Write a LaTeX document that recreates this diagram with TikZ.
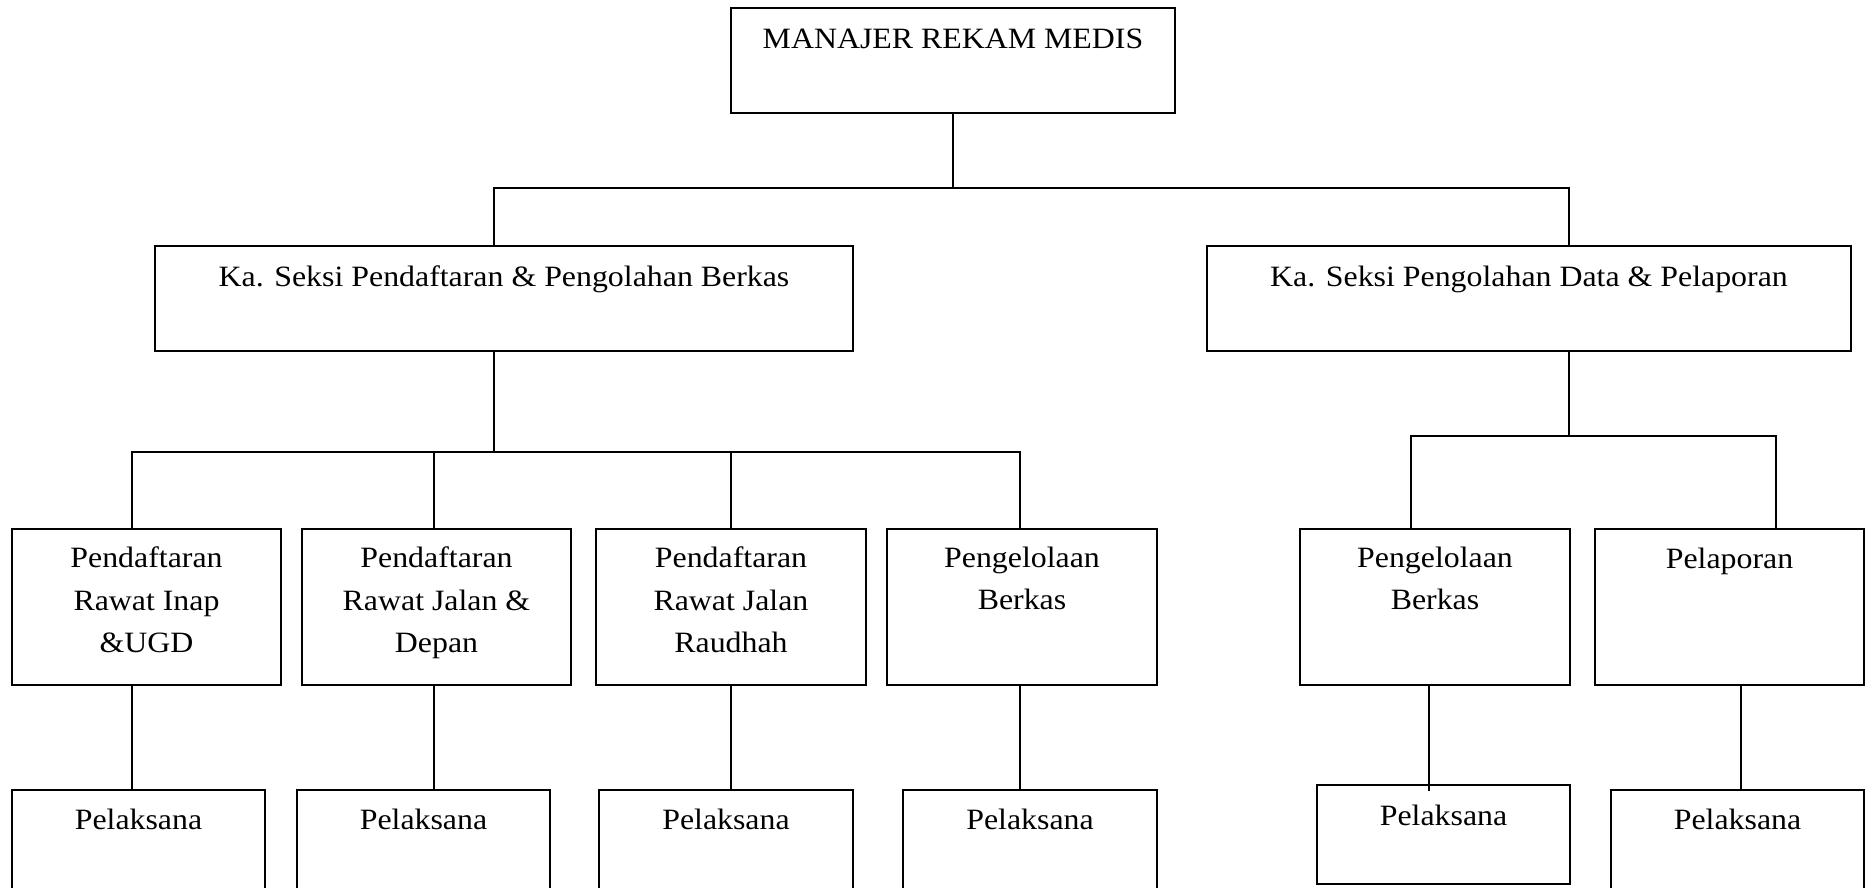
\documentclass[tikz,border=0pt]{standalone}
\usepackage{fontspec}
\setmainfont{Liberation Serif}[FakeStretch=1.08]
\begin{document}
\begin{tikzpicture}[x=1pt,y=-1pt,line width=1.5pt,
  box/.style={draw, rectangle, inner sep=0pt, outer sep=0pt, anchor=north west},
  txt/.style={anchor=north, inner sep=0pt, align=center,
    font=\fontsize{29.5}{42.5}\selectfont, execute at begin node={\rule{0pt}{22pt}}},
  conn/.style={draw, line width=1.5pt}]
\useasboundingbox (0,0) rectangle (1870,887);
\clip (0,0) rectangle (1870,887);
% boxes
\node[box, minimum width=444pt, minimum height=105pt] (top) at (731,8) {};
\node[box, minimum width=698pt, minimum height=105pt] (ka1) at (155,246) {};
\node[box, minimum width=644pt, minimum height=105pt] (ka2) at (1207,246) {};
\node[box, minimum width=269pt, minimum height=156pt] (b1) at (12,529) {};
\node[box, minimum width=269pt, minimum height=156pt] (b2) at (302,529) {};
\node[box, minimum width=270pt, minimum height=156pt] (b3) at (596,529) {};
\node[box, minimum width=270pt, minimum height=156pt] (b4) at (887,529) {};
\node[box, minimum width=270pt, minimum height=156pt] (b5) at (1300,529) {};
\node[box, minimum width=269pt, minimum height=156pt] (b6) at (1595,529) {};
\node[box, minimum width=253pt, minimum height=120pt] (p1) at (12,790) {};
\node[box, minimum width=253pt, minimum height=120pt] (p2) at (297,790) {};
\node[box, minimum width=254pt, minimum height=120pt] (p3) at (599,790) {};
\node[box, minimum width=254pt, minimum height=120pt] (p4) at (903,790) {};
\node[box, minimum width=253pt, minimum height=99pt] (p5) at (1317,785) {};
\node[box, minimum width=253pt, minimum height=120pt] (p6) at (1611,790) {};
% texts
\node[txt] (ttop) at ([yshift=-18pt]top.north) {MANAJER REKAM MEDIS};
\node[txt] (tka1) at ([yshift=-18pt]ka1.north) {Ka. Seksi Pendaftaran \& Pengolahan Berkas};
\node[txt] (tka2) at ([yshift=-18pt]ka2.north) {Ka. Seksi Pengolahan Data \& Pelaporan};
\node[txt] (tb1) at ([yshift=-17pt]b1.north) {Pendaftaran\\Rawat Inap\\\&UGD};
\node[txt] (tb2) at ([yshift=-17pt]b2.north) {Pendaftaran\\Rawat Jalan \&\\Depan};
\node[txt] (tb3) at ([yshift=-17pt]b3.north) {Pendaftaran\\Rawat Jalan\\Raudhah};
\node[txt] (tb4) at ([yshift=-17pt]b4.north) {Pengelolaan\\Berkas};
\node[txt] (tb5) at ([yshift=-17pt]b5.north) {Pengelolaan\\Berkas};
\node[txt] (tb6) at ([yshift=-17pt]b6.north) {Pelaporan};
\foreach \p in {p1,p2,p3,p4,p6}{
  \node[txt] (t\p) at ([yshift=-17pt]\p.north) {Pelaksana};
}
\node[txt] (tp5) at ([yshift=-18pt]p5.north) {Pelaksana};
% junction coordinates
\coordinate (j0) at (953,188);
\coordinate (d1) at (494,0);
\coordinate (d2) at (1569,0);
\coordinate (j1) at (494,452);
\coordinate (j2) at (1569,436);
\coordinate (c1) at (132,0);
\coordinate (c2) at (434,0);
\coordinate (c3) at (731,0);
\coordinate (c4) at (1020,0);
\coordinate (c5) at (1411,0);
\coordinate (c6) at (1776,0);
\coordinate (e5) at (1429,0);
\coordinate (e6) at (1741,0);
% connectors
\draw (top.south -| j0) -- (j0);
\draw (ka1.north -| d1) |- (j0) -| (ka2.north -| d2);
\draw (ka1.south -| d1) -- (j1);
\draw (b1.north -| c1) |- (j1) -| (b4.north -| c4);
\draw (b2.north -| c2) -- (c2 |- j1);
\draw (b3.north -| c3) -- (c3 |- j1);
\draw (ka2.south -| d2) -- (j2);
\draw (b5.north -| c5) |- (j2) -| (b6.north -| c6);
\draw (b1.south -| c1) -- (p1.north -| c1);
\draw (b2.south -| c2) -- (p2.north -| c2);
\draw (b3.south -| c3) -- (p3.north -| c3);
\draw (b4.south -| c4) -- (p4.north -| c4);
\draw (b5.south -| e5) -- ([yshift=-6pt]p5.north -| e5);
\draw (b6.south -| e6) -- (p6.north -| e6);
\end{tikzpicture}
\end{document}
